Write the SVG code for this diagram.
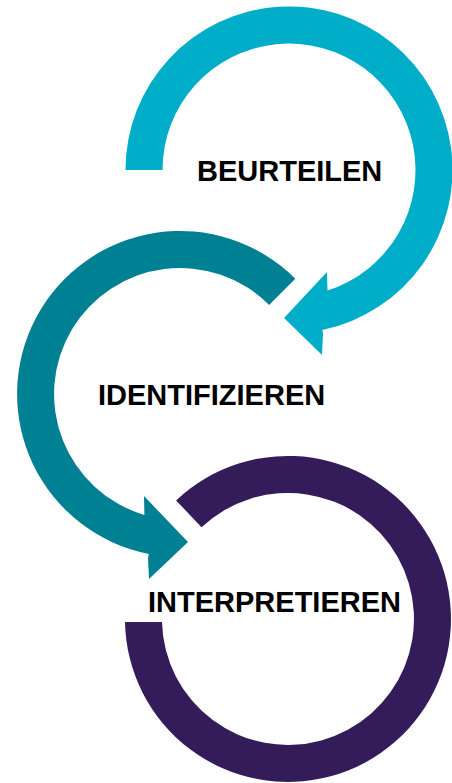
<svg xmlns="http://www.w3.org/2000/svg" width="452" height="783" viewBox="0 0 452 783">
<style>
.lbl{font-family:"Liberation Sans",Arial,sans-serif;font-weight:bold;font-size:29px;fill:#000}
.c1{fill:#00ADC9}
.c2{fill:#008093}
.c3{fill:#341C5B}
</style>
<rect width="452" height="783" fill="#fff"/>
<g id="connectors">
<path id="arrow-beurteilen" class="c1" d="M125.5,170 A163.5,163.5 0 1 1 322.4,330 L323,333 L322,355 L284,318 L327,272 L327.5,290.5 A126.5,126.5 0 1 0 162.5,170 Z"/>
<path id="arrow-identifizieren" class="c2" d="M295.3,278.7 A163,163 0 1 0 148.9,554 L148,558 L149,579 L188,542 L144,496 L144.4,514.9 A126,126 0 1 1 269.1,304.9 Z"/>
<path id="ring-interpretieren" class="c3" d="M125,622 A163,163 0 1 0 176.1,500.4 L201.5,527.3 A126,126 0 1 1 162,622 Z"/>
</g>
<g id="node-beurteilen"><text class="lbl" x="197" y="181">BEURTEILEN</text></g>
<g id="node-identifizieren"><text class="lbl" x="98" y="405">IDENTIFIZIEREN</text></g>
<g id="node-interpretieren"><text class="lbl" x="148" y="612">INTERPRETIEREN</text></g>
</svg>
